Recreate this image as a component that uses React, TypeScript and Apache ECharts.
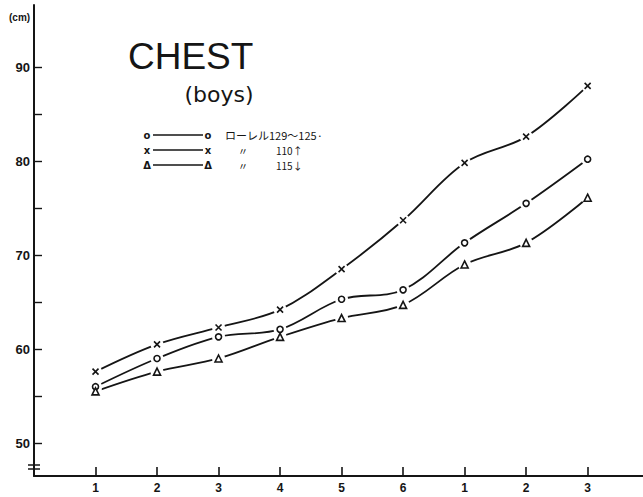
import React, { useEffect, useRef } from "react";
import * as echarts from "echarts";

const categoryLabels = ["1", "2", "3", "4", "5", "6", "1", "2", "3"];
const categoryPositions = [1, 2, 3, 4, 5, 6, 7, 8, 9];

const laurel129to125 = [56.0, 59.0, 61.3, 62.1, 65.3, 66.3, 71.3, 75.5, 80.2];
const laurel110up = [57.6, 60.5, 62.3, 64.2, 68.5, 73.7, 79.8, 82.6, 88.0];
const laurel115down = [55.5, 57.6, 59.0, 61.3, 63.3, 64.7, 69.0, 71.3, 76.1];

const yMajorTicks = [50, 60, 70, 80, 90];
const yAllTicks = [50, 55, 60, 65, 70, 75, 80, 85, 90];

const legendRows = [
  { glyph: "o", label: "ローレル129～125·", ditto: "" },
  { glyph: "x", label: "110↑", ditto: "〃" },
  { glyph: "Δ", label: "115↓", ditto: "〃" },
];

const INK = "#151515";
const CROSS = "path://M0 0L10 10M10 0L0 10";

function lineSeries(name: string, values: number[]) {
  return {
    name,
    type: "line",
    smooth: 0.35,
    data: values.map((v, i) => [categoryPositions[i], v]),
    lineStyle: { color: INK, width: 1.8 },
    symbol: "circle",
    symbolSize: 13,
    itemStyle: { color: "#ffffff", borderWidth: 0 },
    emphasis: { disabled: true },
    z: 2,
  };
}

function markerSeries(name: string, values: number[], symbol: string, size: number) {
  return {
    name,
    type: "scatter",
    data: values.map((v, i) => [categoryPositions[i], v]),
    symbol,
    symbolSize: size,
    itemStyle: { color: "#ffffff", borderColor: INK, borderWidth: 1.6, opacity: 1 },
    emphasis: { disabled: true },
    z: 3,
  };
}

export default function App() {
  const ref = useRef<HTMLDivElement>(null);
  useEffect(() => {
    if (!ref.current) return;
    const chart = echarts.init(ref.current, null, { renderer: "svg" });
    const rowY = [135, 150, 165];
    const legendGraphics: any[] = [];
    const txt = (x: number, y: number, text: string, font: string, align: string) => ({
      type: "text",
      x,
      y,
      style: { text, fill: INK, font, align, verticalAlign: "middle", lineHeight: 11 },
    });
    legendRows.forEach((r, i) => {
      const y = rowY[i];
      legendGraphics.push(
        txt(147, y, r.glyph, "bold 10px 'DejaVu Sans'", "center"),
        {
          type: "line",
          shape: { x1: 153, y1: y, x2: 203, y2: y },
          style: { stroke: INK, lineWidth: 1.3 },
        },
        txt(208, y, r.glyph, "bold 10px 'DejaVu Sans'", "center")
      );
      if (r.ditto) {
        legendGraphics.push(
          txt(243, y, r.ditto, "10px 'Noto Sans CJK JP'", "center"),
          txt(276, y, r.label, "10px 'Noto Sans CJK JP'", "left")
        );
      } else {
        legendGraphics.push(txt(225, y, r.label, "11px 'Noto Sans CJK JP'", "left"));
      }
    });

    chart.setOption({
      animation: false,
      backgroundColor: "#ffffff",
      grid: { left: 34, right: 0, top: 5, bottom: 21, containLabel: false, outerBoundsMode: "none" },
      xAxis: {
        type: "value",
        min: 0,
        max: 9.9,
        axisLine: { show: true, lineStyle: { color: INK, width: 2 } },
        axisTick: { show: true, inside: true, length: 9, customValues: categoryPositions, lineStyle: { color: INK, width: 1.6 } },
        axisLabel: {
          customValues: categoryPositions,
          formatter: (v: number) => categoryLabels[Math.round(v) - 1] ?? "",
          margin: 6,
          color: INK,
          fontSize: 12,
          fontWeight: "bold",
          fontFamily: "Liberation Sans",
        },
        splitLine: { show: false },
      },
      yAxis: {
        type: "value",
        min: 46.5,
        max: 96.6,
        axisLine: { show: true, lineStyle: { color: INK, width: 2 } },
        axisTick: { show: true, inside: true, length: 8, customValues: yAllTicks, lineStyle: { color: INK, width: 1.4 } },
        axisLabel: {
          customValues: yMajorTicks,
          margin: 4,
          color: INK,
          fontSize: 13,
          fontWeight: "bold",
          fontFamily: "Liberation Sans",
        },
        splitLine: { show: false },
      },
      series: [
        lineSeries("ローレル129～125", laurel129to125),
        lineSeries("110↑", laurel110up),
        lineSeries("115↓", laurel115down),
        markerSeries("ローレル129～125 marks", laurel129to125, "circle", 6),
        markerSeries("110↑ marks", laurel110up, CROSS, 6),
        markerSeries("115↓ marks", laurel115down, "triangle", 7),
      ],
      graphic: [
        {
          type: "text",
          x: 9,
          y: 17,
          style: { text: "(cm)", fill: INK, font: "bold 10px 'Liberation Sans'", align: "left", verticalAlign: "middle" },
        },
        {
          type: "text",
          x: 128,
          y: 56,
          style: { text: "CHEST", fill: INK, font: "37px 'Liberation Sans'", align: "left", verticalAlign: "middle" },
        },
        {
          type: "text",
          x: 219,
          y: 94,
          style: { text: "(boys)", fill: INK, font: "22px 'DejaVu Sans'", align: "center", verticalAlign: "middle" },
        },
        {
          type: "line",
          shape: { x1: 28, y1: 465, x2: 40, y2: 465 },
          style: { stroke: INK, lineWidth: 1.5 },
        },
        {
          type: "line",
          shape: { x1: 28, y1: 469, x2: 40, y2: 469 },
          style: { stroke: INK, lineWidth: 1.5 },
        },
        ...legendGraphics,
      ],
    });
    return () => chart.dispose();
  }, []);
  return (
    <div
      ref={ref}
      style={{ position: "fixed", left: 0, top: 0, width: 643, height: 497, background: "#fff" }}
    />
  );
}
